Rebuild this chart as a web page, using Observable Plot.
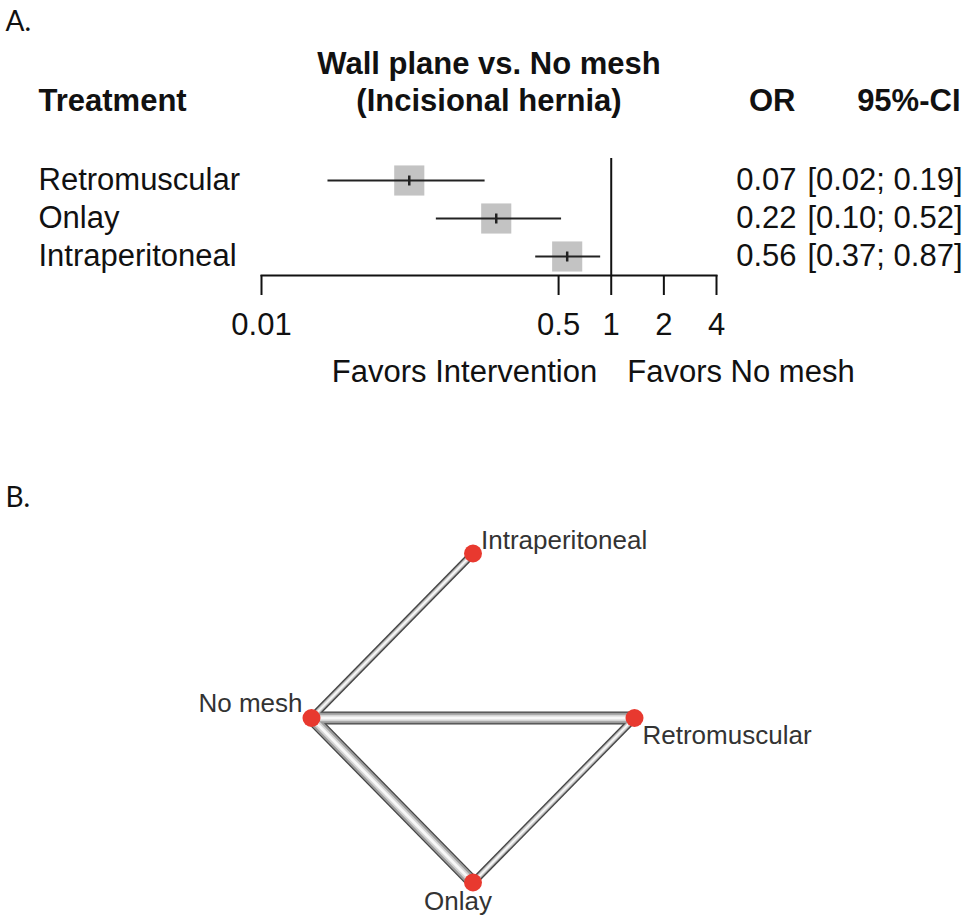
<!DOCTYPE html>
<html>
<head>
<meta charset="utf-8">
<script src="https://cdn.jsdelivr.net/npm/d3@7"></script>
<script src="https://cdn.jsdelivr.net/npm/@observablehq/plot@0.6"></script>
<style>
  body { margin: 0; background: #fff; }
  #wrap { position: relative; width: 972px; height: 918px; overflow: hidden; background: #fff; }
  #wrap svg { display: block; }
</style>
</head>
<body>
<div id="wrap"></div>
<script>
// ---- Panel A: forest plot data ----
const treatments = ["Retromuscular", "Onlay", "Intraperitoneal"];
const orValues = [0.07, 0.22, 0.56];
const ciLower = [0.024, 0.10, 0.37];
const ciUpper = [0.19, 0.52, 0.87];
const xTicks = [0.01, 0.5, 1, 2, 4];
const comparisonTitle = ["Wall plane vs. No mesh", "(Incisional hernia)"];
const columnHeaders = ["Treatment", "OR", "95%-CI"];
const favorLabels = ["Favors Intervention", "Favors No mesh"];
const panelLabels = ["A.", "B."];

// ---- Panel B: network graph data ----
const nodeNames = ["No mesh", "Retromuscular", "Intraperitoneal", "Onlay"];
const nodeX = [-1, 1, 0, 0];
const nodeY = [0, 0, 1, -1];
const edgeFrom = ["No mesh", "No mesh", "No mesh", "Retromuscular"];
const edgeTo = ["Intraperitoneal", "Retromuscular", "Onlay", "Onlay"];
const edgeWeight = [0.6, 1, 1, 0.6];

const font = "'Liberation Sans', Arial, Helvetica, sans-serif";
const fs = 31;

const rows = treatments.map((t, i) => ({name: t, or: orValues[i], lo: ciLower[i], hi: ciUpper[i]}));

// short vertical tick symbol marking the point estimate
const vtick = {draw(ctx) { ctx.moveTo(0, -5); ctx.lineTo(0, 5); }};

const plotA = Plot.plot({
  width: 972, height: 440,
  marginTop: 158, marginBottom: 165, marginLeft: 261, marginRight: 256,
  style: {fontFamily: font, fontSize: fs + "px", color: "#111", background: "white"},
  x: {type: "log", domain: [0.01, 4], label: null},
  y: {type: "point", domain: treatments, range: [179, 256], padding: 0, axis: null, label: null},
  marks: [
    Plot.frame({anchor: "bottom", stroke: "#111", strokeWidth: 2}),
    Plot.axisX({ticks: xTicks, tickFormat: () => null, tickSize: 20,
      strokeWidth: 2, stroke: "#111", anchor: "bottom", label: null}),
    Plot.text(xTicks, {x: d => d, text: d => String(d), frameAnchor: "bottom", dy: 50, lineAnchor: "middle", fill: "#111"}),
    Plot.ruleX([1], {stroke: "#111", strokeWidth: 2}),
    Plot.dot(rows, {x: "or", y: "name", symbol: "square", r: 17, fill: "#c3c3c3", stroke: "none"}),
    Plot.ruleY(rows, {y: "name", x1: "lo", x2: "hi", stroke: "#222", strokeWidth: 2.2}),
    Plot.dot(rows, {x: "or", y: "name", symbol: vtick, fill: "none", stroke: "#222", strokeWidth: 2.5}),
    // table columns
    Plot.text(rows, {y: "name", text: "name", frameAnchor: "left", dx: -223, textAnchor: "start", lineAnchor: "middle", fill: "#111"}),
    Plot.text(rows, {y: "name", text: d => d.or.toFixed(2), frameAnchor: "left", dx: 535, textAnchor: "end", lineAnchor: "middle", fill: "#111"}),
    Plot.text(rows, {y: "name", text: d => `[${d.lo.toFixed(2)}; ${d.hi.toFixed(2)}]`, frameAnchor: "left", dx: 701, textAnchor: "end", lineAnchor: "middle", fill: "#111"}),
    // headers
    Plot.text([comparisonTitle[0]], {text: d => d, frameAnchor: "top", dy: -94, lineAnchor: "middle", fontWeight: "bold", fill: "#111"}),
    Plot.text([comparisonTitle[1]], {text: d => d, frameAnchor: "top", dy: -57, lineAnchor: "middle", fontWeight: "bold", fill: "#111"}),
    Plot.text([columnHeaders[0]], {text: d => d, frameAnchor: "top-left", dx: -223, dy: -57, textAnchor: "start", lineAnchor: "middle", fontWeight: "bold", fill: "#111"}),
    Plot.text([columnHeaders[1]], {text: d => d, frameAnchor: "top-left", dx: 534, dy: -57, textAnchor: "end", lineAnchor: "middle", fontWeight: "bold", fill: "#111"}),
    Plot.text([columnHeaders[2]], {text: d => d, frameAnchor: "top-left", dx: 699, dy: -57, textAnchor: "end", lineAnchor: "middle", fontWeight: "bold", fill: "#111"}),
    // favors labels
    Plot.text([favorLabels[0]], {x: () => 1, text: d => d, frameAnchor: "bottom", dx: -14, dy: 97, textAnchor: "end", lineAnchor: "middle", fill: "#111"}),
    Plot.text([favorLabels[1]], {x: () => 1, text: d => d, frameAnchor: "bottom", dx: 16, dy: 97, textAnchor: "start", lineAnchor: "middle", fill: "#111"}),
    // panel label
    Plot.text([panelLabels[0]], {text: d => d, frameAnchor: "top-left", dx: -256, dy: -136, textAnchor: "start", lineAnchor: "middle", fontFamily: "Lato, 'Open Sans', sans-serif", fontSize: 28, fill: "#111"})
  ]
});

// ---- Panel B ----
const nodes = nodeNames.map((n, i) => ({name: n, x: nodeX[i], y: nodeY[i]}));
const byName = new Map(nodes.map(d => [d.name, d]));
const edges = edgeFrom.map((f, i) => ({a: byName.get(f), b: byName.get(edgeTo[i]), w: edgeWeight[i]}));
const maxW = 13;
const edgeLayer = (color, fw) => Plot.link(edges, {
  x1: d => d.a.x, y1: d => d.a.y, x2: d => d.b.x, y2: d => d.b.y,
  stroke: color, strokeWidth: d => fw(d.w * maxW), strokeLinecap: "butt"
});
const labelStyle = {text: "name", fill: "#333", fontSize: 26, lineAnchor: "middle"};

const plotB = Plot.plot({
  width: 972, height: 478,
  marginTop: 0, marginBottom: 0, marginLeft: 0, marginRight: 0,
  style: {fontFamily: font, fontSize: "26px", color: "#333", background: "white"},
  x: {domain: [-1, 1], range: [311, 634], axis: null},
  y: {domain: [-1, 1], range: [442, 113], axis: null},
  marks: [
    edgeLayer("#444", w => w),
    edgeLayer("#9c9c9c", w => w - 2.5),
    edgeLayer("#d4d4d4", w => w * 0.5),
    edgeLayer("#f8f8f8", w => w * 0.22),
    Plot.dot(nodes, {x: "x", y: "y", r: 9, fill: "#e8392f", stroke: "none"}),
    Plot.text(nodes, {...labelStyle, x: "x", y: "y", filter: d => d.name === "Intraperitoneal", dx: 8, dy: -13, textAnchor: "start"}),
    Plot.text(nodes, {...labelStyle, x: "x", y: "y", filter: d => d.name === "No mesh", dx: -9, dy: -14, textAnchor: "end"}),
    Plot.text(nodes, {...labelStyle, x: "x", y: "y", filter: d => d.name === "Retromuscular", dx: 8, dy: 18, textAnchor: "start"}),
    Plot.text(nodes, {...labelStyle, x: "x", y: "y", filter: d => d.name === "Onlay", dx: -15, dy: 19, textAnchor: "middle"}),
    Plot.text([panelLabels[1]], {text: d => d, frameAnchor: "top-left", dx: 5, dy: 58, textAnchor: "start", lineAnchor: "middle", fontFamily: "Lato, 'Open Sans', sans-serif", fontSize: 28, fill: "#111"})
  ]
});

const wrap = document.getElementById("wrap");
wrap.appendChild(plotA);
wrap.appendChild(plotB);
</script>
</body>
</html>
